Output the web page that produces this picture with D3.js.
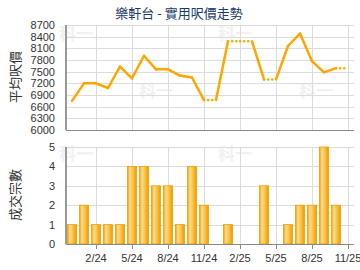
<!DOCTYPE html>
<html><head><meta charset="utf-8">
<script src="https://cdn.jsdelivr.net/npm/d3@7/dist/d3.min.js"></script>
<style>body{margin:0;background:#fff}svg{display:block}</style>
</head><body><svg id="c" width="360" height="270"></svg>
<script>
const months = ["12/23","1/24","2/24","3/24","4/24","5/24","6/24","7/24","8/24","9/24","10/24","11/24","12/24","1/25","2/25","3/25","4/25","5/25","6/25","7/25","8/25","9/25","10/25","11/25"];
const prices = [6750,7200,7200,7080,7630,7330,7910,7560,7560,7400,7350,6770,null,8280,null,null,7300,null,8160,8480,7770,7480,7590,null];
const counts = [1,2,1,1,1,4,4,3,3,1,4,2,0,1,0,0,3,0,1,2,2,5,2,0];
const xTickLabels = ["2/24","5/24","8/24","11/24","2/25","5/25","8/25","11/25"];
const priceTicks = [6000,6300,6600,6900,7200,7500,7800,8100,8400,8700];
const countTicks = [0,1,2,3,4,5];
const title = "樂軒台 - 實用呎價走勢";
const yTitleTop = "平均呎價";
const yTitleBottom = "成交宗數";

const svg = d3.select("#c");
const font = "Liberation Sans, Arial, sans-serif";
const cjk = "Noto Sans CJK TC, sans-serif";
const L = 66, R = 354;
const x = d3.scaleLinear().domain([-0.5, months.length - 0.5]).range([L, R]);
const yP = d3.scaleLinear().domain([6000, 8700]).range([130, 25]);
const yC = d3.scaleLinear().domain([0, 5]).range([244, 147]);
const tickIdx = xTickLabels.map(l => months.indexOf(l));

// defs gradient
const defs = svg.append("defs");
const g = defs.append("linearGradient").attr("id","bar").attr("x1","0").attr("x2","1").attr("y1","0").attr("y2","0");
[[0,"#f2a000"],[0.25,"#ffd98a"],[0.45,"#ffce6a"],[0.7,"#f9b733"],[1,"#eb9c00"]].forEach(s=>g.append("stop").attr("offset",s[0]).attr("stop-color",s[1]));

// watermarks
const wm = [[76,40],[156,97],[235,40],[316,97],[76,160],[156,220],[235,160],[316,220]];
svg.append("g").selectAll("text").data(wm).join("text")
  .attr("x",d=>d[0]).attr("y",d=>d[1]).attr("text-anchor","middle")
  .attr("font-family",cjk).attr("font-size",17).attr("font-weight","bold")
  .attr("fill","#f1f1f1").text("科一");

function panel(y, ticks, top, bottom) {
  const gg = svg.append("g");
  gg.selectAll("line.h").data(ticks).join("line")
    .attr("x1",L).attr("x2",R).attr("y1",d=>Math.round(y(d))+0.5).attr("y2",d=>Math.round(y(d))+0.5)
    .attr("stroke","#dcdcdc");
  gg.selectAll("line.v").data(tickIdx).join("line")
    .attr("x1",d=>Math.round(x(d))+0.5).attr("x2",d=>Math.round(x(d))+0.5)
    .attr("y1",top).attr("y2",bottom).attr("stroke","#dcdcdc");
  gg.selectAll("text").data(ticks).join("text")
    .attr("x",55).attr("y",d=>y(d)+4).attr("text-anchor","end")
    .attr("font-family",font).attr("font-size",11).attr("fill","#333").text(d=>d);
}
panel(yP, priceTicks, 25, 130);
panel(yC, countTicks, 147, 244);

// bars
svg.append("g").selectAll("rect").data(counts.map((c,i)=>({c,i})).filter(d=>d.c>0)).join("rect")
  .attr("x",d=>x(d.i)-4.5).attr("width",9)
  .attr("y",d=>yC(d.c)).attr("height",d=>yC(0)-yC(d.c))
  .attr("fill","url(#bar)").attr("stroke","#f0a000").attr("stroke-width",0.8);

// price line with carried values for missing months
let last = null;
const pts = prices.map((p,i)=>{ if(p!==null) last=p; return {i, v:last, real:p!==null}; });
const segs = svg.append("g");
for (let k=1;k<pts.length;k++){
  const a=pts[k-1], b=pts[k];
  segs.append("line").attr("x1",x(a.i)).attr("y1",yP(a.v)).attr("x2",x(b.i)).attr("y2",yP(b.v))
    .attr("stroke","#ffa500").attr("stroke-width",2.5).attr("stroke-linecap","round")
    .attr("stroke-dasharray", b.real ? null : "0.1,4");
}

// axes lines
[[25,130],[147,244]].forEach(([t,b])=>{
  svg.append("line").attr("x1",L).attr("x2",L).attr("y1",t).attr("y2",b).attr("stroke","#999").attr("stroke-width",2);
  svg.append("line").attr("x1",L).attr("x2",R).attr("y1",b+0.5).attr("y2",b+0.5).attr("stroke","#888");
});
// bottom ticks & labels
svg.append("g").selectAll("line").data(tickIdx).join("line")
  .attr("x1",d=>Math.round(x(d))+0.5).attr("x2",d=>Math.round(x(d))+0.5).attr("y1",244).attr("y2",249).attr("stroke","#888");
svg.append("g").selectAll("text").data(tickIdx).join("text")
  .attr("x",d=>x(d)).attr("y",262).attr("text-anchor","middle")
  .attr("font-family",font).attr("font-size",11).attr("fill","#333").text(d=>months[d]);

// titles
svg.append("text").attr("x",179).attr("y",18).attr("text-anchor","middle")
  .attr("font-family",cjk).attr("font-size",13).attr("fill","#1c3b6a").text(title);
svg.append("text").attr("transform","translate(20,77) rotate(-90)").attr("text-anchor","middle")
  .attr("font-family",cjk).attr("font-size",13).attr("fill","#333").text(yTitleTop);
svg.append("text").attr("transform","translate(20,195) rotate(-90)").attr("text-anchor","middle")
  .attr("font-family",cjk).attr("font-size",13).attr("fill","#333").text(yTitleBottom);
</script></body></html>
